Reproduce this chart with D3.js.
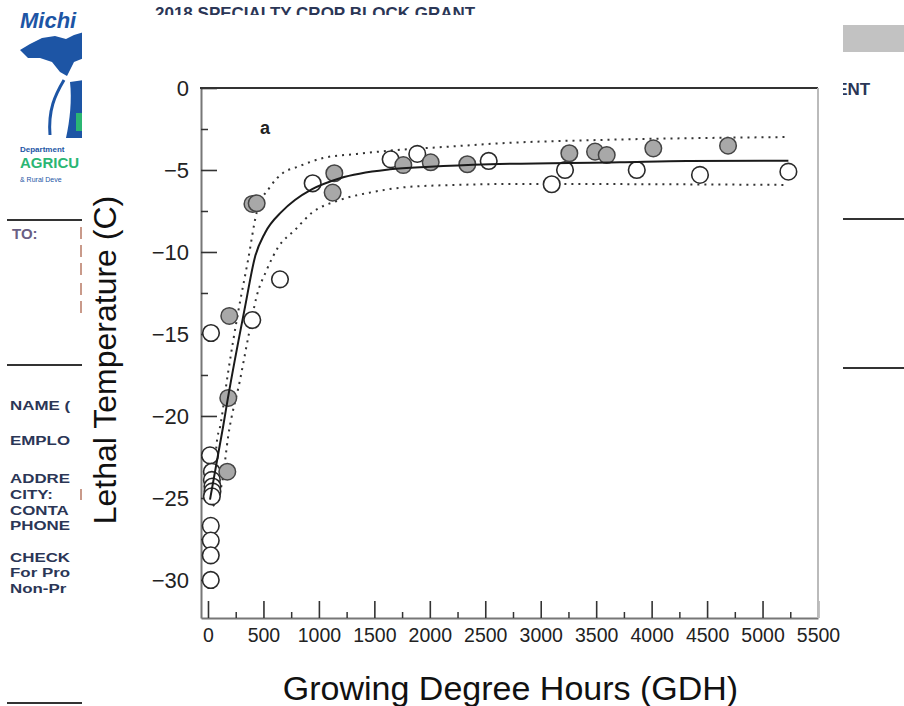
<!DOCTYPE html>
<html><head><meta charset="utf-8">
<script src="https://cdn.jsdelivr.net/npm/d3@7"></script>
<style>
html,body{margin:0;padding:0;background:#fff;}
svg{display:block;font-family:"Liberation Sans",Arial,sans-serif;}
</style></head>
<body>
<svg id="c" width="904" height="706"></svg>
<script>
// ---------- data ----------
const openGDH  = [27, 18, 35, 35, 40, 40, 35, 25, 25, 25, 25, 399, 649, 944, 1647, 1887, 2531, 3219, 3099, 3866, 4436, 5233];
const openLT   = [-14.94, -22.4, -23.4, -23.9, -24.3, -24.6, -24.9, -26.7, -27.6, -28.5, -30.0, -14.15, -11.67, -5.81, -4.35, -4.02, -4.45, -5.0, -5.87, -5.0, -5.3, -5.1];
const filledGDH = [174, 183, 192, 401, 439, 1139, 1124, 1761, 2008, 2338, 3258, 3490, 3595, 4015, 4689];
const filledLT  = [-23.4, -18.9, -13.9, -7.07, -7.03, -5.2, -6.38, -4.7, -4.53, -4.65, -3.98, -3.88, -4.09, -3.68, -3.52];
const fitGDH = [18, 135, 180, 334, 424, 514, 665, 784, 935, 1190, 1641, 2002, 2543, 3715, 4317, 5233];
const fitLT  = [-25.1, -20.7, -18.9, -13.35, -10.3, -8.84, -7.54, -6.83, -6.18, -5.5, -4.96, -4.8, -4.65, -4.53, -4.45, -4.43];
const upperGDH = [45, 81, 108, 180, 271, 361, 439, 559, 676, 803, 1037, 1344, 1704, 2119, 2696, 3535, 5230];
const upperLT  = [-25.4, -21.5, -20.7, -17.4, -13.7, -10.5, -7.6, -6.04, -5.18, -4.82, -4.27, -4.02, -3.78, -3.6, -3.35, -3.17, -2.99];
const lowerGDH = [45, 126, 183, 289, 363, 439, 529, 634, 784, 935, 1190, 1488, 1794, 2245, 2840, 5221];
const lowerLT  = [-25.5, -24.1, -21.2, -17.8, -15.2, -12.7, -11.1, -9.7, -8.66, -7.62, -6.83, -6.34, -6.04, -5.91, -5.85, -5.91];
const xTickValues = [0, 500, 1000, 1500, 2000, 2500, 3000, 3500, 4000, 4500, 5000, 5500];
const xTickLabels = ["0", "500", "1000", "1500", "2000", "2500", "3000", "3500", "4000", "4500", "5000", "5500"];
const xMinorValues = [250, 750, 1250, 1750, 2250, 2750, 3250, 3750, 4250, 4750, 5250];
const yTickValues = [0, -5, -10, -15, -20, -25, -30];
const yTickLabels = ["0", "\u22125", "\u221210", "\u221215", "\u221220", "\u221225", "\u221230"];
const yMinorValues = [-2.5, -7.5, -12.5, -17.5, -22.5, -27.5];
const xTitle = "Growing Degree Hours (GDH)";
const yTitle = "Lethal Temperature (C)";
const panelLabel = "a";
// background document fragments
const docLeftLines = ["NAME (", "EMPLO", "ADDRE", "CITY: ", "CONTA", "PHONE", "CHECK", "For Pro", "Non-Pr"];

const svg = d3.select("#c");

// ---------- background document ----------
const doc = svg.append("g");
doc.append("text").attr("x", 155).attr("y", 19).attr("font-size", 17).attr("font-weight", "bold")
  .attr("fill", "#2b3656").text("2018 SPECIALTY CROP BLOCK GRANT");
// logo
doc.append("text").attr("x", 20).attr("y", 28).attr("font-size", 22).attr("font-weight", "bold")
  .attr("font-style", "italic").attr("fill", "#1d55a5").text("Michi");
doc.append("path").attr("fill", "#1d55a5")
  .attr("d", "M20,50 L30,44 L42,38 L55,36 L66,39 L74,35 L84,32 L84,58 L74,62 L67,76 L60,72 L52,62 L40,58 L28,58 Z");
doc.append("path").attr("fill", "none").attr("stroke", "#1d55a5").attr("stroke-width", 3)
  .attr("d", "M64,80 C55,95 48,110 50,135");
doc.append("path").attr("fill", "#1d55a5")
  .attr("d", "M70,82 L84,80 L84,138 L66,138 C70,120 72,100 70,82 Z");
doc.append("rect").attr("x", 76).attr("y", 113).attr("width", 8).attr("height", 18).attr("fill", "#2bb673");
doc.append("text").attr("x", 20).attr("y", 152).attr("font-size", 8).attr("font-weight", "bold").attr("fill", "#1d55a5").text("Department");
doc.append("text").attr("x", 20).attr("y", 168).attr("font-size", 15).attr("font-weight", "bold").attr("fill", "#2bb673").text("AGRICU");
doc.append("text").attr("x", 20).attr("y", 182).attr("font-size", 7).attr("fill", "#1d55a5").text("& Rural Deve");
// left column
doc.append("line").attr("x1", 7).attr("x2", 84).attr("y1", 220).attr("y2", 220).attr("stroke", "#333").attr("stroke-width", 2);
doc.append("line").attr("x1", 7).attr("x2", 84).attr("y1", 365).attr("y2", 365).attr("stroke", "#333").attr("stroke-width", 2);
doc.append("line").attr("x1", 7).attr("x2", 84).attr("y1", 703).attr("y2", 703).attr("stroke", "#333").attr("stroke-width", 2);
doc.append("text").attr("x", 12).attr("y", 239).attr("font-size", 15).attr("font-weight", "bold").attr("fill", "#6a5f84").text("TO:");
[233, 251, 269, 289, 307].forEach(y => doc.append("rect").attr("x", 80).attr("y", y - 6).attr("width", 3).attr("height", 12).attr("fill", "#c99a8a"));
const docY = [410, 445, 483, 499, 515, 530, 562, 577, 593];
docLeftLines.forEach((t, i) => doc.append("text")
  .attr("transform", `translate(10,${docY[i]}) scale(1.3,1)`).attr("font-size", 13)
  .attr("font-weight", "bold").attr("fill", "#2b3656").text(t));
doc.append("rect").attr("x", 80).attr("y", 489).attr("width", 3).attr("height", 11).attr("fill", "#c99a8a");
// right column
doc.append("rect").attr("x", 840).attr("y", 25).attr("width", 64).attr("height", 27).attr("fill", "#c2c2c2");
doc.append("text").attr("x", 822).attr("y", 95).attr("font-size", 17).attr("font-weight", "bold").attr("fill", "#2b3656").text("MENT");
doc.append("line").attr("x1", 840).attr("x2", 904).attr("y1", 219).attr("y2", 219).attr("stroke", "#333").attr("stroke-width", 2);
doc.append("line").attr("x1", 840).attr("x2", 904).attr("y1", 368).attr("y2", 368).attr("stroke", "#333").attr("stroke-width", 2);

// chart sheet on top
svg.append("rect").attr("x", 82).attr("y", 15).attr("width", 761).attr("height", 691).attr("fill", "#fff");

// ---------- chart ----------
const L = 201, R = 818, T = 88, B = 618;
const x = d3.scaleLinear().domain([-63, 5500]).range([L, R]);
const y = d3.scaleLinear().domain([-32.32, 0]).range([B, T]);

const g = svg.append("g");

// x axis (ticks inward)
const xAxis = g.append("g").attr("transform", `translate(0,${B})`)
  .call(d3.axisBottom(x).tickValues(xTickValues).tickFormat((d, i) => xTickLabels[i])
    .tickSizeInner(-17).tickSizeOuter(0).tickPadding(10));
xAxis.select(".domain").attr("stroke", "#777").attr("stroke-width", 2);
xAxis.selectAll(".tick line").attr("stroke", "#333").attr("stroke-width", 1.6);
xAxis.selectAll("text").attr("font-size", 19.5).attr("fill", "#222").attr("font-family", "Liberation Sans, Arial, sans-serif");
const xMinor = g.append("g").attr("transform", `translate(0,${B})`)
  .call(d3.axisBottom(x).tickValues(xMinorValues).tickFormat("").tickSizeInner(-6).tickSizeOuter(0));
xMinor.select(".domain").remove();
xMinor.selectAll(".tick line").attr("stroke", "#333").attr("stroke-width", 1.5);

// y axis (ticks inward)
const yAxis = g.append("g").attr("transform", `translate(${L},0)`)
  .call(d3.axisLeft(y).tickValues(yTickValues).tickFormat((d, i) => yTickLabels[i])
    .tickSizeInner(-16).tickSizeOuter(0).tickPadding(12));
yAxis.select(".domain").attr("stroke", "#777").attr("stroke-width", 2);
yAxis.selectAll(".tick line").attr("stroke", "#333").attr("stroke-width", 1.6);
yAxis.selectAll("text").attr("font-size", 22).attr("fill", "#222").attr("font-family", "Liberation Sans, Arial, sans-serif");
const yMinor = g.append("g").attr("transform", `translate(${L},0)`)
  .call(d3.axisLeft(y).tickValues(yMinorValues).tickFormat("").tickSizeInner(-7).tickSizeOuter(0));
yMinor.select(".domain").remove();
yMinor.selectAll(".tick line").attr("stroke", "#333").attr("stroke-width", 1.5);

// frame top & right
g.append("line").attr("x1", L - 1).attr("x2", R).attr("y1", T).attr("y2", T).attr("stroke", "#333").attr("stroke-width", 2);
g.append("line").attr("x1", R).attr("x2", R).attr("y1", T).attr("y2", B).attr("stroke", "#bbb").attr("stroke-width", 2);

// bands
const line = d3.line().x(d => x(d[0])).y(d => y(d[1])).curve(d3.curveMonotoneX);
g.append("path").datum(upperGDH.map((v, i) => [v, upperLT[i]])).attr("d", line)
  .attr("fill", "none").attr("stroke", "#333").attr("stroke-width", 2).attr("stroke-dasharray", "2 5");
g.append("path").datum(lowerGDH.map((v, i) => [v, lowerLT[i]])).attr("d", line)
  .attr("fill", "none").attr("stroke", "#333").attr("stroke-width", 2).attr("stroke-dasharray", "2 5");

// points
g.selectAll("circle.o").data(openGDH.map((v, i) => [v, openLT[i]])).enter().append("circle")
  .attr("class", "o").attr("cx", d => x(d[0])).attr("cy", d => y(d[1])).attr("r", 8.3)
  .attr("fill", "#fff").attr("stroke", "#2a2a2a").attr("stroke-width", 1.6);
g.selectAll("circle.f").data(filledGDH.map((v, i) => [v, filledLT[i]])).enter().append("circle")
  .attr("class", "f").attr("cx", d => x(d[0])).attr("cy", d => y(d[1])).attr("r", 8.3)
  .attr("fill", "#a8a8a8").attr("stroke", "#444").attr("stroke-width", 1.5);

// fitted line
g.append("path").datum(fitGDH.map((v, i) => [v, fitLT[i]])).attr("d", line)
  .attr("fill", "none").attr("stroke", "#1a1a1a").attr("stroke-width", 2);

// panel label
g.append("text").attr("x", 260).attr("y", 134).attr("font-size", 18).attr("font-weight", "bold").attr("fill", "#222").text(panelLabel);

// titles
g.append("text").attr("x", (L + R) / 2 + 1).attr("y", 700).attr("text-anchor", "middle")
  .attr("font-size", 34).attr("fill", "#111").text(xTitle);
g.append("text").attr("transform", "translate(116,360) rotate(-90)").attr("text-anchor", "middle")
  .attr("font-size", 32).attr("fill", "#111").text(yTitle);
</script>
</body></html>
